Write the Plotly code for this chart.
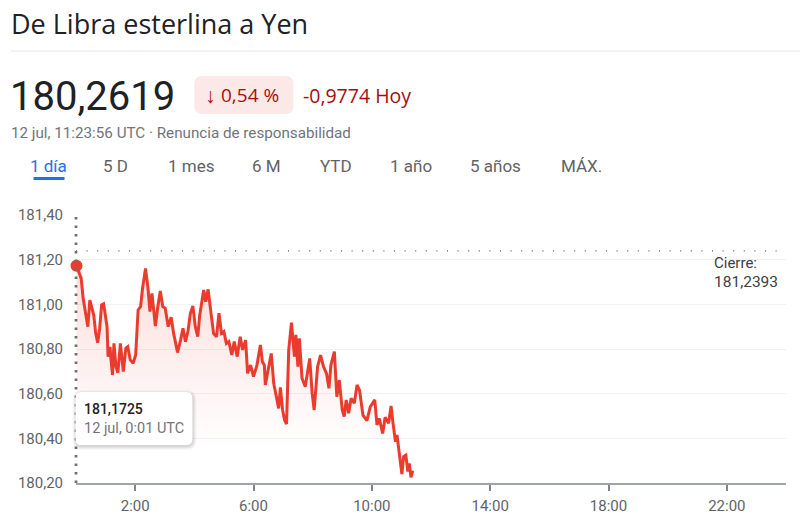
import plotly.graph_objects as go

minutes = [1,6,10.5,14.5,19,24,28,31.4,36,40,44,48,52,56,60,63,65,69,71,74,77,81,85,90,96,101,105,110,116,121,
126,131,135,141,146,150,154,161,166,171,176,181,187,193,198,206,212,217,222,227,232,237,242,247,251,259,263,268,273,279,
285,290,295,300,305,310,316,321,327,333,338,344,348,354,360,367,374,378,382,384,389,396,401,406,411,414.5,419,423,427,431.4,
437,443,446,450,453,458.4,465,474,479,483,490,496,502,508,513,517,524,529,534,540,544,548,553,558,564.5,570,575,582,590,597,
606,610.4,615,622,627,634,639,643,648,651,661,664.5,669,673,676,679.4,683]
values = [181.1725,181.146,181.116,181.027,180.960,180.900,181.019,180.990,180.952,180.870,180.828,180.893,180.997,181.002,180.930,180.900,180.766,180.810,180.751,180.684,180.825,180.721,180.694,180.825,180.699,180.803,180.810,180.751,180.736,180.773,
180.975,180.990,181.072,181.161,181.072,180.967,181.049,180.903,180.990,181.060,180.990,180.982,180.900,180.942,180.870,180.784,180.840,180.893,180.833,180.878,180.960,180.993,180.900,180.855,180.952,181.064,181.012,181.067,180.975,180.870,
180.855,180.960,180.870,180.878,180.825,180.833,180.773,180.833,180.766,180.855,180.796,180.840,180.691,180.728,180.676,180.728,180.818,180.743,180.728,180.639,180.698,180.780,180.646,180.586,180.534,180.628,180.527,180.482,180.464,180.795,
180.918,180.766,180.863,180.721,180.848,180.669,180.631,180.758,180.601,180.527,180.721,180.773,180.721,180.691,180.624,180.728,180.788,180.586,180.661,180.527,180.497,180.572,180.512,180.579,180.557,180.639,180.616,180.504,180.479,180.542,
180.572,180.460,180.489,180.422,180.494,180.467,180.545,180.467,180.385,180.415,180.240,180.318,180.325,180.251,180.288,180.225,180.255]
y_ticks = [180.2,180.4,180.6,180.8,181.0,181.2,181.4]
x_tick_vals = [120,360,600,840,1080,1320]
x_tick_text = ["2:00","6:00","10:00","14:00","18:00","22:00"]
prev_close = 181.2393
tabs = ["1 día","5 D","1 mes","6 M","YTD","1 año","5 años","MÁX."]

W, H = 800, 527
L, R, T, B = 75.5, 786, 215, 483
FONT = "Roboto"
HEAD = "Open Sans"
RED, DARK_RED = "#ea3c2e", "#a50e0e"
fx = lambda p: (p - L) / (R - L)
fy = lambda p: 1 - (p - T) / (B - T)

fig = go.Figure()
fig.add_trace(go.Scatter(x=minutes, y=values, mode="lines",
    line=dict(color=RED, width=3), fill="tozeroy",
    fillgradient=dict(type="vertical", start=181.15, stop=180.35,
        colorscale=[[0, "rgba(234,67,53,0.17)"], [1, "rgba(234,67,53,0.0)"]]),
    hoverinfo="skip", showlegend=False))
fig.add_trace(go.Scatter(x=[minutes[0]], y=[values[0]], mode="markers", cliponaxis=False,
    marker=dict(color=RED, size=12), hoverinfo="skip", showlegend=False))

shapes = [
    dict(type="line", xref="paper", yref="y", x0=0, x1=1, y0=prev_close, y1=prev_close,
         line=dict(color="#5f6368", width=1.2, dash="1px 9.6px")),
    dict(type="line", xref="paper", yref="paper", x0=0, x1=0, y0=0, y1=1,
         line=dict(color="#6a6e73", width=2.7, dash="2.5px 6px")),
    dict(type="line", xref="paper", yref="paper", x0=fx(10), x1=fx(800), y0=fy(51), y1=fy(51),
         line=dict(color="#e6e6e6", width=1)),
    dict(type="line", xref="paper", yref="paper", x0=fx(33), x1=fx(64), y0=fy(178.5), y1=fy(178.5),
         line=dict(color="#1a73e8", width=3)),
]
def rounded(x0, y0, x1, y1, r, **kw):
    path = (f"M {fx(x0+r)} {fy(y0)} L {fx(x1-r)} {fy(y0)} Q {fx(x1)} {fy(y0)} {fx(x1)} {fy(y0+r)} "
            f"L {fx(x1)} {fy(y1-r)} Q {fx(x1)} {fy(y1)} {fx(x1-r)} {fy(y1)} "
            f"L {fx(x0+r)} {fy(y1)} Q {fx(x0)} {fy(y1)} {fx(x0)} {fy(y1-r)} "
            f"L {fx(x0)} {fy(y0+r)} Q {fx(x0)} {fy(y0)} {fx(x0+r)} {fy(y0)} Z")
    return dict(type="path", xref="paper", yref="paper", path=path, **kw)
shapes.append(rounded(194, 76, 293, 114, 8, fillcolor="#fce8e6", line=dict(width=0)))
for d, a in [(4, .04), (3, .05), (2, .06), (1, .08)]:
    shapes.append(rounded(75-d+1, 392-d+2, 192+d, 445+d+1, 6+d, fillcolor=f"rgba(60,64,67,{a})", line=dict(width=0)))
shapes.append(rounded(75, 392, 192, 445, 6, fillcolor="#ffffff", line=dict(width=0)))
shapes.append(dict(type="rect", xref="paper", yref="paper", x0=fx(712), x1=fx(752), y0=fy(272), y1=fy(255),
                   fillcolor="#ffffff", line=dict(width=0), layer="below"))
fig.update_layout(shapes=shapes)

def txt(s, x, y, size, color, anchor="left", weight=None, family=FONT):
    fig.add_annotation(text=s, xref="paper", yref="paper", x=fx(x), y=fy(y), showarrow=False,
        xanchor=anchor, yanchor="middle", borderpad=0,
        font=dict(family=family, size=size, color=color, weight=weight))

txt("De Libra esterlina a Yen", 9, 23, 27, "#202124", family=HEAD)
txt("180,2619", 8, 96, 40, "#202124")
txt("↓", 204, 95, 21, DARK_RED, family=HEAD)
txt("0,54 %", 220, 95, 19, DARK_RED, family=HEAD)
txt("-0,9774 Hoy", 302, 95, 19.5, DARK_RED, family=HEAD)
txt("12 jul, 11:23:56 UTC · Renuncia de responsabilidad", 9, 133, 15.2, "#70757a")
tab_x = [28, 102, 167, 251, 319, 389, 469, 560]
for i, (t, x) in enumerate(zip(tabs, tab_x)):
    txt(t, x, 166, 17, "#1a73e8" if i == 0 else "#5f6368")
txt("Cierre:", 713, 263, 15, "#3c4043")
txt("181,2393", 713, 282, 15.5, "#3c4043")
txt("181,1725", 83, 409, 14, "#202124", weight=500)
txt("12 jul, 0:01 UTC", 83, 428, 14.5, "#70757a")

fig.update_layout(
    width=W, height=H, margin=dict(l=L, r=W-R, t=T, b=H-B),
    paper_bgcolor="white", plot_bgcolor="white", separators=",.",
    font=dict(family=FONT, size=15, color="#5f6368"), showlegend=False,
    xaxis=dict(range=[0, 1440], tickmode="array", tickvals=x_tick_vals, ticktext=x_tick_text,
        ticks="outside", ticklen=6, tickwidth=2, tickcolor="#80868b", showgrid=False,
        showline=True, linecolor="#a0a4a8", linewidth=2, zeroline=False, fixedrange=True,
        ticklabelstandoff=2, automargin=False, tickfont=dict(size=15, color="#5f6368")),
    yaxis=dict(range=[180.2, 181.4], tickmode="array", tickvals=y_ticks, tickformat=".2f",
        showgrid=True, gridcolor="#f1f1f1", gridwidth=1, zeroline=False, showline=False,
        ticks="outside", ticklen=9, tickcolor="rgba(0,0,0,0)", fixedrange=True,
        automargin=False, tickfont=dict(size=15, color="#5f6368")),
)
fig.write_html("out.html", config=dict(displayModeBar=False),
               post_script="document.body.style.margin='0';")
